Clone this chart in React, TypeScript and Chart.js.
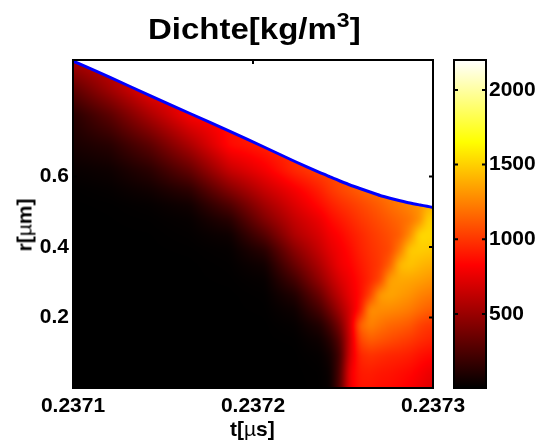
import React, { useEffect, useRef } from "react";
import { Chart, registerables } from "chart.js";

Chart.register(...registerables);

const SANS = '"Liberation Sans", Arial, sans-serif';

// time samples [µs]
const times = [0.2371, 0.2371206, 0.2371428, 0.237165, 0.2371872, 0.2372067, 0.2372233, 0.2372372, 0.2372428, 0.2372483, 0.2372539, 0.2372594, 0.237265, 0.2372706, 0.2372761, 0.2372817, 0.2372872, 0.2372928, 0.2372967, 0.2373];
// radius samples [µm]
const radii = [0, 0.0454, 0.0936, 0.1361, 0.1786, 0.2212, 0.2637, 0.3062, 0.3488, 0.3913, 0.4338, 0.4763, 0.5189, 0.5614, 0.6181, 0.689, 0.7741, 0.845, 0.93];
// bubble wall radius at each time sample
const wallRadius = [0.9272, 0.8804, 0.8293, 0.7783, 0.7273, 0.6819, 0.6422, 0.611, 0.5983, 0.5869, 0.5756, 0.5657, 0.5557, 0.5458, 0.5382, 0.5311, 0.5245, 0.5189, 0.5152, 0.5118];
// density [kg/m³], one row per radius sample, one column per time sample
const density = [
  [5, 5, 5, 5, 5, 5, 5, 8, 30, 280, 780, 890, 890, 870, 860, 840, 810, 770, 740, 720],
  [5, 5, 5, 5, 5, 5, 5, 10, 40, 260, 780, 910, 920, 900, 890, 870, 850, 810, 780, 760],
  [5, 5, 5, 5, 5, 5, 5, 20, 70, 230, 700, 950, 990, 970, 950, 940, 920, 880, 860, 850],
  [5, 5, 5, 5, 5, 5, 8, 50, 130, 290, 670, 1050, 1130, 1100, 1070, 1040, 1010, 970, 950, 930],
  [5, 5, 5, 5, 5, 5, 20, 110, 230, 400, 690, 1150, 1250, 1200, 1160, 1140, 1110, 1040, 1010, 1000],
  [5, 5, 5, 5, 5, 8, 50, 230, 370, 530, 700, 900, 1290, 1280, 1270, 1250, 1220, 1170, 1140, 1120],
  [5, 5, 5, 5, 5, 12, 110, 350, 500, 630, 760, 860, 1040, 1330, 1360, 1330, 1300, 1250, 1230, 1210],
  [5, 5, 5, 5, 8, 25, 220, 480, 600, 710, 790, 870, 950, 1060, 1350, 1370, 1360, 1340, 1320, 1300],
  [5, 5, 5, 5, 12, 60, 340, 570, 680, 780, 830, 900, 960, 1010, 1140, 1430, 1460, 1420, 1400, 1390],
  [5, 5, 5, 8, 20, 140, 450, 650, 740, 800, 860, 930, 980, 1020, 1060, 1230, 1480, 1490, 1480, 1470],
  [5, 5, 6, 15, 50, 280, 570, 710, 790, 840, 900, 950, 1000, 1040, 1080, 1130, 1280, 1530, 1530, 1520],
  [5, 6, 10, 25, 130, 420, 640, 770, 850, 900, 950, 1000, 1040, 1080, 1120, 1160, 1200, 1300, 1480, 1510],
  [5, 8, 20, 60, 260, 530, 720, 860, 920, 970, 1010, 1050, 1090, 1130, 1180, 1220, 1260, 1300, 1380, 1420],
  [8, 20, 60, 150, 430, 650, 800, 930, 1000, 1050, 1090, 1130, 1170, 1200, 1230, 1260, 1290, 1320, 1350, 1380],
  [30, 50, 140, 330, 650, 800, 960, 1040, 1060, 1080, 1110, 1140, 1170, 1200, 1230, 1260, 1290, 1320, 1350, 1380],
  [80, 130, 300, 560, 860, 930, 1000, 1040, 1060, 1080, 1110, 1140, 1170, 1200, 1230, 1260, 1290, 1320, 1350, 1380],
  [130, 300, 560, 810, 880, 930, 1000, 1040, 1060, 1080, 1110, 1140, 1170, 1200, 1230, 1260, 1290, 1320, 1350, 1380],
  [300, 520, 770, 830, 880, 930, 1000, 1040, 1060, 1080, 1110, 1140, 1170, 1200, 1230, 1260, 1290, 1320, 1350, 1380],
  [560, 680, 770, 830, 880, 930, 1000, 1040, 1060, 1080, 1110, 1140, 1170, 1200, 1230, 1260, 1290, 1320, 1350, 1380],
];
const timeTicks = [0.2371, 0.2372, 0.2373];
const radiusTicks = [0.2, 0.4, 0.6];
const densityTicks = [500, 1000, 1500, 2000];
const densityRange = [5, 2200];

function hot(v: number): [number, number, number] {
  const f = Math.max(0, Math.min(1, (v - densityRange[0]) / (densityRange[1] - densityRange[0])));
  return [
    Math.min(1, f / 0.375) * 255,
    Math.max(0, Math.min(1, (f - 0.375) / 0.375)) * 255,
    Math.max(0, Math.min(1, (f - 0.75) / 0.25)) * 255,
  ];
}

function locate(arr: number[], v: number): [number, number] {
  if (v <= arr[0]) return [0, 0];
  for (let i = 0; i < arr.length - 1; i++) {
    if (v <= arr[i + 1]) return [i, (v - arr[i]) / (arr[i + 1] - arr[i])];
  }
  return [arr.length - 2, 1];
}

// Box-softens the shaded field a little, so the grid of samples does not show.
function soften(src: Float32Array, w: number, h: number, rad: number): Float32Array {
  const out = new Float32Array(src.length);
  for (let y = 0; y < h; y++) {
    for (let x = 0; x < w; x++) {
      let sum = 0;
      let n = 0;
      for (let d = -rad; d <= rad; d++) {
        const xx = x + d;
        if (xx < 0 || xx >= w) continue;
        sum += src[y * w + xx];
        n++;
      }
      out[y * w + x] = sum / n;
    }
  }
  const res = new Float32Array(src.length);
  for (let y = 0; y < h; y++) {
    for (let x = 0; x < w; x++) {
      let sum = 0;
      let n = 0;
      for (let d = -rad; d <= rad; d++) {
        const yy = y + d;
        if (yy < 0 || yy >= h) continue;
        sum += out[yy * w + x];
        n++;
      }
      res[y * w + x] = sum / n;
    }
  }
  return res;
}

// Paints the density cells through the chart's scales, with shading between samples.
const surfacePlugin = {
  id: "surface",
  beforeDatasetsDraw(chart: any) {
    const { ctx, chartArea: a, scales } = chart;
    const w = Math.round(a.right - a.left);
    const h = Math.round(a.bottom - a.top);
    let field = new Float32Array(w * h);
    for (let py = 0; py < h; py++) {
      const r = scales.y.getValueForPixel(a.top + py + 0.5);
      const [ri, rf] = locate(radii, r);
      const r2 = Math.min(ri + 1, radii.length - 1);
      for (let px = 0; px < w; px++) {
        const t = scales.x.getValueForPixel(a.left + px + 0.5);
        const [ti, tf] = locate(times, t);
        field[py * w + px] =
          (density[ri][ti] * (1 - tf) + density[ri][ti + 1] * tf) * (1 - rf) +
          (density[r2][ti] * (1 - tf) + density[r2][ti + 1] * tf) * rf;
      }
    }
    field = soften(soften(field, w, h, 3), w, h, 2);
    const img = ctx.createImageData(w, h);
    for (let py = 0; py < h; py++) {
      const r = scales.y.getValueForPixel(a.top + py + 0.5);
      for (let px = 0; px < w; px++) {
        const t = scales.x.getValueForPixel(a.left + px + 0.5);
        const [ti, tf] = locate(times, t);
        const wall = wallRadius[ti] + (wallRadius[ti + 1] - wallRadius[ti]) * tf;
        const k = (py * w + px) * 4;
        img.data[k + 3] = 255;
        if (r > wall) {
          img.data[k] = img.data[k + 1] = img.data[k + 2] = 255;
          continue;
        }
        const c = hot(field[py * w + px]);
        img.data[k] = c[0];
        img.data[k + 1] = c[1];
        img.data[k + 2] = c[2];
      }
    }
    ctx.putImageData(img, Math.round(a.left), Math.round(a.top));
  },
};

// Box and short inward ticks on all sides, as the original axes have them.
const framePlugin = {
  id: "frame",
  afterDraw(chart: any) {
    const { ctx, chartArea: a, scales } = chart;
    ctx.save();
    ctx.strokeStyle = "#000";
    ctx.lineWidth = 2;
    ctx.strokeRect(a.left, a.top, a.right - a.left, a.bottom - a.top);
    ctx.beginPath();
    for (const id of Object.keys(scales)) {
      const s = scales[id];
      if (!s.options.display) continue;
      for (const tick of s.ticks) {
        const p = s.getPixelForValue(tick.value);
        if (s.isHorizontal()) {
          if (p <= a.left + 1 || p >= a.right - 1) continue;
          ctx.moveTo(p, a.top);
          ctx.lineTo(p, a.top + 4);
          ctx.moveTo(p, a.bottom);
          ctx.lineTo(p, a.bottom - 4);
        } else {
          ctx.moveTo(a.left, p);
          ctx.lineTo(a.left + 4, p);
          ctx.moveTo(a.right, p);
          ctx.lineTo(a.right - 4, p);
        }
      }
    }
    ctx.stroke();
    ctx.restore();
  },
};

const tickFont = { family: SANS, size: 21, weight: "bold" as const };

export default function App() {
  const mainRef = useRef<HTMLCanvasElement>(null);
  const barRef = useRef<HTMLCanvasElement>(null);

  useEffect(() => {
    document.body.style.margin = "0";
    const cells: { x: number; y: number; v: number }[] = [];
    radii.forEach((r, i) => times.forEach((t, j) => cells.push({ x: t, y: r, v: density[i][j] })));

    const main = new Chart(mainRef.current!, {
      type: "scatter",
      plugins: [surfacePlugin, framePlugin],
      data: {
        datasets: [
          { label: "Dichte", data: cells, pointRadius: 0, showLine: false },
          {
            label: "Wand",
            data: times.map((t, i) => ({ x: t, y: wallRadius[i] })),
            showLine: true,
            pointRadius: 0,
            borderColor: "#0000ff",
            borderWidth: 3,
            tension: 0.2,
          },
        ],
      } as any,
      options: {
        animation: false,
        responsive: false,
        layout: { padding: { top: 60, right: 105, left: 0, bottom: 0 } },
        plugins: { legend: { display: false }, tooltip: { enabled: false } },
        scales: {
          x: {
            type: "linear",
            min: timeTicks[0],
            max: timeTicks[2],
            grid: { display: false, drawTicks: false },
            border: { display: false },
            afterFit: (s: any) => { s.height = 53; },
            afterBuildTicks: (s: any) => { s.ticks = timeTicks.map((value) => ({ value })); },
            ticks: {
              color: "#000",
              font: tickFont,
              padding: 6,
              maxRotation: 0,
              autoSkip: false,
              callback: (v: any) => Number(v).toFixed(4),
            },
          },
          y: {
            type: "linear",
            min: 0,
            max: 0.93,
            grid: { display: false, drawTicks: false },
            border: { display: false },
            afterFit: (s: any) => { s.width = 73; },
            afterBuildTicks: (s: any) => { s.ticks = radiusTicks.map((value) => ({ value })); },
            ticks: {
              color: "#000",
              font: tickFont,
              padding: 4,
              autoSkip: false,
              callback: (v: any) => Number(v).toFixed(1),
            },
          },
        },
      } as any,
    });

    const bar = new Chart(barRef.current!, {
      type: "bar",
      plugins: [framePlugin],
      data: {
        labels: ["Dichte"],
        datasets: [
          {
            data: [[densityRange[0], densityRange[1]]],
            barPercentage: 1,
            categoryPercentage: 1,
            backgroundColor: (c: any) => {
              const a = c.chart.chartArea;
              if (!a) return "#000";
              const g = c.chart.ctx.createLinearGradient(0, a.bottom, 0, a.top);
              g.addColorStop(0, "rgb(0,0,0)");
              g.addColorStop(0.375, "rgb(255,0,0)");
              g.addColorStop(0.75, "rgb(255,255,0)");
              g.addColorStop(1, "rgb(255,255,255)");
              return g;
            },
          },
        ],
      } as any,
      options: {
        animation: false,
        responsive: false,
        layout: { padding: { top: 60, right: 0, left: 454, bottom: 53 } },
        plugins: { legend: { display: false }, tooltip: { enabled: false } },
        scales: {
          x: { display: false },
          y: {
            type: "linear",
            position: "right",
            min: densityRange[0],
            max: densityRange[1],
            grid: { display: false, drawTicks: false },
            border: { display: false },
            afterFit: (s: any) => { s.width = 52; },
            afterBuildTicks: (s: any) => { s.ticks = densityTicks.map((value) => ({ value })); },
            ticks: { color: "#000", font: tickFont, padding: 3, autoSkip: false, callback: (v: any) => String(v) },
          },
        },
      } as any,
    });

    return () => {
      main.destroy();
      bar.destroy();
    };
  }, []);

  const label: React.CSSProperties = {
    position: "absolute",
    fontFamily: SANS,
    fontWeight: "bold",
    color: "#000",
    whiteSpace: "nowrap",
    lineHeight: 1,
  };

  return (
    <div style={{ position: "relative", width: 538, height: 441, background: "#fff", overflow: "hidden" }}>
      <canvas ref={mainRef} width={538} height={441} style={{ position: "absolute", left: 0, top: 0 }} />
      <canvas ref={barRef} width={538} height={441} style={{ position: "absolute", left: 0, top: 0 }} />
      <div style={{ ...label, left: 148, top: 14, fontSize: 30, transform: "scaleX(1.1)", transformOrigin: "left top" }}>
        Dichte[kg/m<span style={{ fontSize: 21, position: "relative", top: -12 }}>3</span>]
      </div>
      <div style={{ ...label, left: 230, top: 418, fontSize: 21 }}>
        t[<span style={{ fontWeight: "normal" }}>µ</span>s]
      </div>
      <div style={{ ...label, left: 24, top: 225, fontSize: 21, transform: "translate(-50%,-50%) rotate(-90deg)" }}>
        r[<span style={{ fontWeight: "normal" }}>µ</span>m]
      </div>
    </div>
  );
}
